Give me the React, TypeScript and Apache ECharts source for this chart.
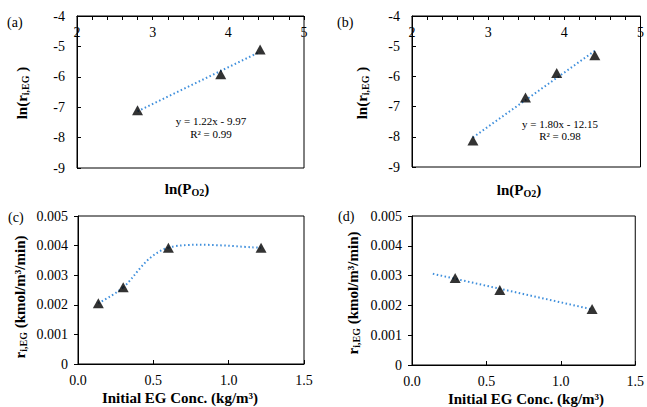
import React, { useEffect, useRef } from "react";
import * as echarts from "echarts";

// Panel (a)
const lnPO2A = [2.8, 3.9, 4.42];
const lnRateA = [-7.1, -5.92, -5.1];
const eqA = ["y = 1.22x - 9.97", "R² = 0.99"];
// Panel (b)
const lnPO2B = [2.8, 3.49, 3.9, 4.4];
const lnRateB = [-8.12, -6.7, -5.89, -5.3];
const eqB = ["y = 1.80x - 12.15", "R² = 0.98"];
// Panel (c)
const concC = [0.135, 0.3, 0.6, 1.215];
const rateC = [0.00205, 0.00259, 0.00393, 0.00393];
// Panel (d)
const concD = [0.29, 0.59, 1.21];
const rateD = [0.00292, 0.00252, 0.00188];
const trendRangeD = [0.14, 1.21];

const lnTicks = [-9, -8, -7, -6, -5, -4];
const lnXTicks = [2, 3, 4, 5];
const concTicks = [0, 0.5, 1.0, 1.5];
const rateTicks = [0, 0.001, 0.002, 0.003, 0.004, 0.005];

const FONT = "Liberation Serif";
const BLUE = "#3f8fdc";
const DASH = [1.5, 2.5];

function fitLine(xs: number[], ys: number[], x0: number, x1: number) {
  const n = xs.length;
  const mx = xs.reduce((a, b) => a + b, 0) / n;
  const my = ys.reduce((a, b) => a + b, 0) / n;
  let sxx = 0, sxy = 0;
  for (let i = 0; i < n; i++) {
    sxx += (xs[i] - mx) ** 2;
    sxy += (xs[i] - mx) * (ys[i] - my);
  }
  const k = sxy / sxx;
  return [[x0, my + k * (x0 - mx)], [x1, my + k * (x1 - mx)]];
}

const zip = (a: number[], b: number[]) => a.map((v, i) => [v, b[i]]);

export default function App() {
  const ref = useRef<HTMLDivElement>(null);
  useEffect(() => {
    const chart = echarts.init(ref.current!, undefined, { renderer: "svg" });
    const grids = [
      { left: 77, top: 16, width: 227, height: 152 },
      { left: 412, top: 16, width: 229, height: 151 },
      { left: 78, top: 216, width: 226, height: 148 },
      { left: 412, top: 216, width: 227, height: 149 },
    ].map((g) => ({ ...g, show: true, borderColor: "#000", borderWidth: 1, backgroundColor: "transparent" }));

    const lbl = { fontFamily: FONT, fontSize: 14, color: "#000" };
    const axLine = { show: true, lineStyle: { color: "#000", width: 1 } };

    const lnX = (gi: number) => ({
      type: "value", gridIndex: gi, position: "top", min: lnXTicks[0], max: lnXTicks[lnXTicks.length - 1], interval: 1,
      axisLine: axLine,
      axisTick: { show: true, inside: true, length: 4, lineStyle: { color: "#000" } },
      minorTick: { show: true, splitNumber: 5, length: 4, lineStyle: { color: "#000" } },
      axisLabel: { ...lbl, inside: true, margin: 9, showMinLabel: true, showMaxLabel: true },
      splitLine: { show: false },
    });
    const lnY = (gi: number) => ({
      type: "value", gridIndex: gi, min: lnTicks[0], max: lnTicks[lnTicks.length - 1], interval: 1,
      axisLine: axLine,
      axisTick: { show: true, inside: true, length: 4, lineStyle: { color: "#000" } },
      axisLabel: { ...lbl, margin: 12 },
      splitLine: { show: false },
    });
    const concX = (gi: number) => ({
      type: "value", gridIndex: gi, min: concTicks[0], max: concTicks[concTicks.length - 1], interval: 0.5,
      axisLine: axLine,
      axisTick: { show: true, inside: true, length: 4, lineStyle: { color: "#000" } },
      axisLabel: { ...lbl, margin: 9, formatter: (v: number) => v.toFixed(1), showMinLabel: true, showMaxLabel: true },
      splitLine: { show: false },
    });
    const rateY = (gi: number) => ({
      type: "value", gridIndex: gi, min: rateTicks[0], max: rateTicks[rateTicks.length - 1], interval: 0.001,
      axisLine: axLine,
      axisTick: { show: true, inside: false, length: 4, lineStyle: { color: "#000" } },
      axisLabel: { ...lbl, margin: 10, formatter: (v: number) => (v === 0 ? "0" : v.toFixed(3)) },
      splitLine: { show: false },
    });

    const dotted = { color: BLUE, width: 2, type: DASH as any, cap: "butt" };
    const marker = (xi: number, data: number[][]) => ({
      type: "scatter", xAxisIndex: xi, yAxisIndex: xi, data, symbol: "triangle", symbolSize: [11, 10],
      itemStyle: { color: "#000" }, z: 5,
    });
    const trend = (xi: number, data: number[][]) => ({
      type: "line", xAxisIndex: xi, yAxisIndex: xi, data, symbol: "none", lineStyle: dotted, z: 3,
    });

    const dataA = zip(lnPO2A, lnRateA);
    const dataB = zip(lnPO2B, lnRateB);
    const dataC = zip(concC, rateC);
    const dataD = zip(concD, rateD);

    // Excel-style smoothed line (Catmull-Rom Bezier) through panel (c)'s points, via the axis scales
    const smoothSeries = {
      type: "custom", xAxisIndex: 2, yAxisIndex: 2, data: dataC, z: 3,
      renderItem: (params: any, api: any) => {
        if (params.dataIndex !== 0) return null;
        const p = dataC.map((d) => api.coord(d));
        const children: any[] = [];
        for (let i = 0; i < p.length - 1; i++) {
          const p0 = p[Math.max(i - 1, 0)], p1 = p[i], p2 = p[i + 1], p3 = p[Math.min(i + 2, p.length - 1)];
          children.push({
            type: "bezierCurve",
            shape: {
              x1: p1[0], y1: p1[1], x2: p2[0], y2: p2[1],
              cpx1: p1[0] + (p2[0] - p0[0]) / 6, cpy1: p1[1] + (p2[1] - p0[1]) / 6,
              cpx2: p2[0] - (p3[0] - p1[0]) / 6, cpy2: p2[1] - (p3[1] - p1[1]) / 6,
            },
            style: { stroke: BLUE, lineWidth: 2, lineDash: DASH, fill: null },
          });
        }
        return { type: "group", children };
      },
    };

    const rich = (base: number, sub: number) => ({
      b: { fontFamily: FONT, fontSize: base, fontWeight: "bold", color: "#000", lineHeight: 16 },
      s: { fontFamily: FONT, fontSize: sub, fontWeight: "bold", color: "#000", lineHeight: 8, verticalAlign: "bottom" },
    });
    const title = (x: number, y: number, text: string, rot: boolean) => ({
      type: "text", x, y, rotation: rot ? Math.PI / 2 : 0,
      style: { text, rich: rich(15, 10), align: "center", verticalAlign: "middle" },
    });
    const plain = (x: number, y: number, text: string, size: number, align = "center") => ({
      type: "text", x, y,
      style: { text, fontFamily: FONT, fontSize: size, fill: "#000", align, verticalAlign: "middle" },
    });

    chart.setOption({
      animation: false,
      grid: grids,
      xAxis: [lnX(0), lnX(1), concX(2), concX(3)],
      yAxis: [lnY(0), lnY(1), rateY(2), rateY(3)],
      series: [
        trend(0, fitLine(lnPO2A, lnRateA, lnPO2A[0], lnPO2A[lnPO2A.length - 1])),
        marker(0, dataA),
        trend(1, fitLine(lnPO2B, lnRateB, lnPO2B[0], lnPO2B[lnPO2B.length - 1])),
        marker(1, dataB),
        smoothSeries,
        marker(2, dataC),
        trend(3, fitLine(concD, rateD, trendRangeD[0], trendRangeD[1])),
        marker(3, dataD),
      ],
      graphic: [
        plain(7, 22, "(a)", 14, "left"),
        plain(337, 22, "(b)", 14, "left"),
        plain(8, 217, "(c)", 14, "left"),
        plain(338, 216, "(d)", 14, "left"),
        plain(211, 121, eqA[0], 11),
        plain(211, 133.5, eqA[1], 11),
        plain(560, 123.5, eqB[0], 11),
        plain(560, 136, eqB[1], 11),
        title(187, 189, "{b|ln(P}{s|O2}{b|)}", false),
        title(519, 190, "{b|ln(P}{s|O2}{b|)}", false),
        title(22, 93, "{b|ln(r}{s|i,EG}{b| )}", true),
        title(362, 93, "{b|ln(r}{s|i,EG}{b| )}", true),
        title(20, 297, "{b|r}{s|i,EG}{b| (kmol/m³/min)}", true),
        title(353, 293, "{b|r}{s|i,EG}{b| (kmol/m³/min)}", true),
        title(180, 398, "{b|Initial EG Conc. (kg/m³)}", false),
        title(526, 399, "{b|Initial EG Conc. (kg/m³)}", false),
      ],
    });
    return () => chart.dispose();
  }, []);
  return <div ref={ref} style={{ position: "absolute", left: 0, top: 0, width: 647, height: 407 }} />;
}
